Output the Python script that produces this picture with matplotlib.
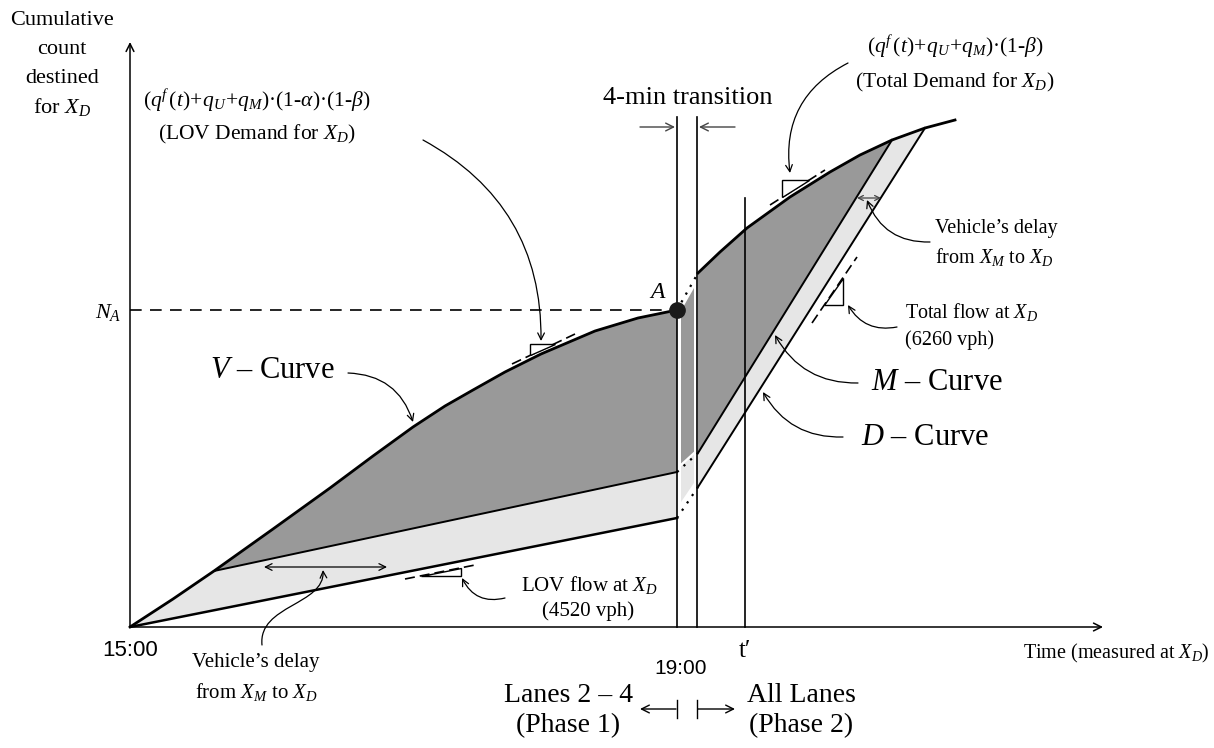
import matplotlib
matplotlib.use("Agg")
import matplotlib.pyplot as plt
from matplotlib.patches import FancyArrowPatch, Polygon
from matplotlib.path import Path

plt.rcParams['font.family'] = ['Liberation Serif', 'DejaVu Serif']
plt.rcParams['mathtext.fontset'] = 'custom'
plt.rcParams['mathtext.rm'] = 'Liberation Serif'
plt.rcParams['mathtext.it'] = 'Liberation Serif:italic'
plt.rcParams['mathtext.bf'] = 'Liberation Serif:bold'

# --- data (pixel-like schematic coordinates, y grows downward) ---
origin = (130, 627)
# V-curve, phase 1 (first point = origin, 3rd point = kink where M splits)
v_x = [130, 173, 214, 273, 330, 373, 413, 445, 473, 505, 541, 595, 638, 677]
v_y = [627, 599, 571, 529, 488, 456, 427, 406, 390, 372, 354, 331, 318, 310]
point_A = (677, 310)
# M and D curves in phase 1
m1_x = [214, 677]
m1_y = [571, 472]
d1_x = [130, 677]
d1_y = [627, 518]
# phase 2: total demand curve, M and D
v2_x = [698, 720, 747, 790, 830, 860, 892, 925, 955]
v2_y = [273, 252, 228, 197, 172, 155, 140, 128, 120]
m2_x = [698, 892]
m2_y = [453, 140]
d2_x = [698, 925]
d2_y = [487, 128]
# vertical markers
trans_x = [677, 697]
tprime_x = 745

dark = '#999999'
light = '#e6e6e6'

fig = plt.figure(figsize=(12.14, 7.48), dpi=100)
ax = fig.add_axes([0, 0, 1, 1])
ax.set_xlim(0, 1214)
ax.set_ylim(748, 0)
ax.axis('off')

# --- shaded regions ---
dark1 = list(zip(v_x[2:], v_y[2:])) + [(m1_x[1], m1_y[1]), (m1_x[0], m1_y[0])]
light1 = list(zip(v_x[:3], v_y[:3])) + [(m1_x[1], m1_y[1]), (d1_x[1], d1_y[1])]
ax.add_patch(Polygon(light1, closed=True, fc=light, ec='none', zorder=1))
ax.add_patch(Polygon(dark1, closed=True, fc=dark, ec='none', zorder=1))

dark2 = list(zip(v2_x[:7], v2_y[:7])) + [(m2_x[0], m2_y[0])]
light2 = [(m2_x[1], m2_y[1])] + list(zip(v2_x[6:8], v2_y[6:8])) + [(d2_x[0], d2_y[0]), (m2_x[0], m2_y[0])]
ax.add_patch(Polygon(light2, closed=True, fc=light, ec='none', zorder=1))
ax.add_patch(Polygon(dark2, closed=True, fc=dark, ec='none', zorder=1))

# strip inside the 4-min transition
def lerp(a, b, t):
    return a + (b - a) * t
sx0, sx1 = 681, 694
t0 = (sx0 - trans_x[0]) / (trans_x[1] + 1 - trans_x[0])
t1 = (sx1 - trans_x[0]) / (trans_x[1] + 1 - trans_x[0])
top0, top1 = lerp(point_A[1], v2_y[0], t0) + 8, lerp(point_A[1], v2_y[0], t1) + 8
mid0, mid1 = lerp(m1_y[1], m2_y[0], t0) - 5, lerp(m1_y[1], m2_y[0], t1) - 5
bot0, bot1 = lerp(d1_y[1], d2_y[0], t0) - 10, lerp(d1_y[1], d2_y[0], t1) - 10
ax.add_patch(Polygon([(sx0, top0), (sx1, top1), (sx1, mid1), (sx0, mid0)], fc=dark, ec='none', zorder=1))
ax.add_patch(Polygon([(sx0, mid0 + 3), (sx1, mid1 + 3), (sx1, bot1), (sx0, bot0)], fc=light, ec='none', zorder=1))

# --- curves ---
ax.plot(v_x, v_y, color='black', lw=2.0, zorder=3, solid_capstyle='round', solid_joinstyle='round')
ax.plot(m1_x, m1_y, color='black', lw=1.4, zorder=3)
ax.plot(d1_x, d1_y, color='black', lw=1.8, zorder=3)
ax.plot(v2_x, v2_y, color='black', lw=2.0, zorder=3, solid_joinstyle='round')
ax.plot(m2_x, m2_y, color='black', lw=1.4, zorder=3)
ax.plot(d2_x, d2_y, color='black', lw=1.4, zorder=3)

# dotted joins across the transition
ax.plot([point_A[0], v2_x[0]], [point_A[1], v2_y[0]], color='black', lw=1.6, ls=(0, (1, 3)), zorder=3)
ax.plot([m1_x[1], m2_x[0]], [m1_y[1], m2_y[0]], color='black', lw=1.6, ls=(0, (1, 3)), zorder=3)
ax.plot([d1_x[1], d2_x[0]], [d1_y[1], d2_y[0]], color='black', lw=1.6, ls=(0, (1, 3)), zorder=3)

# point A and N_A
ax.plot([origin[0], point_A[0]], [point_A[1], point_A[1]], color='black', lw=1.2, ls=(0, (7, 5)), zorder=2)
ax.plot(*point_A, 'o', ms=11, color='#1a1a1a', zorder=5)

# --- axes ---
ax.add_patch(FancyArrowPatch(origin, (130, 42), arrowstyle='->', mutation_scale=14, lw=1.1, shrinkA=0, shrinkB=0))
ax.add_patch(FancyArrowPatch(origin, (1103, 627), arrowstyle='->', mutation_scale=14, lw=1.1, shrinkA=0, shrinkB=0))
for xv in trans_x:
    ax.plot([xv, xv], [117, 627], color='black', lw=1.2, zorder=4)
ax.plot([tprime_x, tprime_x], [198, 627], color='black', lw=1.2, zorder=4)

# 4-min transition arrows
ax.add_patch(FancyArrowPatch((640, 127), (675, 127), arrowstyle='->', mutation_scale=14, lw=1.0, color='#444444', shrinkA=0, shrinkB=0))
ax.add_patch(FancyArrowPatch((735, 127), (699, 127), arrowstyle='->', mutation_scale=14, lw=1.0, color='#444444', shrinkA=0, shrinkB=0))

# phase arrows under the axis
ax.add_patch(FancyArrowPatch((676, 709), (640, 709), arrowstyle='->', mutation_scale=14, lw=1.0, shrinkA=0, shrinkB=0))
ax.add_patch(FancyArrowPatch((698, 709), (735, 709), arrowstyle='->', mutation_scale=14, lw=1.0, shrinkA=0, shrinkB=0))
ax.plot([677, 677], [700, 718], color='black', lw=1.0)
ax.plot([697, 697], [700, 718], color='black', lw=1.0)

# --- tangent markers (dashed line + small slope triangle) ---
def tangent(p, q, x1, x2, corner):
    ax.plot([p[0], q[0]], [p[1], q[1]], color='black', lw=1.2, ls=(0, (6, 3)), zorder=4)
    s = (q[1] - p[1]) / (q[0] - p[0])
    ya, yb = p[1] + s * (x1 - p[0]), p[1] + s * (x2 - p[0])
    if corner == 'upper':
        pts = [(x1, ya), (x1, yb), (x2, yb)] if yb < ya else [(x1, ya), (x2, ya), (x2, yb)]
    else:
        pts = [(x1, ya), (x2, ya), (x2, yb)] if yb < ya else [(x1, ya), (x1, yb), (x2, yb)]
    ax.add_patch(Polygon(pts, closed=True, fc='white', ec='black', lw=1.0, zorder=4))

tangent((512, 364), (575, 334), 530, 555, 'upper')
tangent((405, 579), (475, 565), 421, 461, 'lower')
tangent((770, 205), (825, 170), 782, 809, 'upper')
tangent((812, 323), (857, 257), 824, 843, 'lower')

# double-headed delay arrows
ax.add_patch(FancyArrowPatch((264, 567), (387, 567), arrowstyle='<->', mutation_scale=12, lw=0.9, shrinkA=0, shrinkB=0, zorder=4))
ax.add_patch(FancyArrowPatch((857, 198), (881, 198), arrowstyle='<->', mutation_scale=9, lw=0.9, color='#444444', shrinkA=0, shrinkB=0, zorder=4))

# --- curved pointer arrows ---
def pointer(a, b, rad):
    ax.add_patch(FancyArrowPatch(a, b, arrowstyle='->', connectionstyle='arc3,rad=%s' % rad,
                                 mutation_scale=12, lw=0.9, shrinkA=0, shrinkB=0, zorder=6))

pointer((423, 140), (541, 341), -0.3)
pointer((848, 63), (790, 173), 0.35)
pointer((348, 373), (413, 422), -0.35)
pointer((505, 598), (462, 578), -0.4)
pointer((930, 242), (867, 200), -0.35)
pointer((897, 327), (848, 305), -0.35)
pointer((858, 383), (775, 335), -0.3)
pointer((843, 437), (763, 392), -0.3)
s_path = Path([(262, 645), (258, 605), (325, 605), (323, 570)],
              [Path.MOVETO, Path.CURVE4, Path.CURVE4, Path.CURVE4])
ax.add_patch(FancyArrowPatch(path=s_path, arrowstyle='->', mutation_scale=12, lw=0.9, zorder=6))

# --- text ---
def txt(x, y, s, size=15, ha='center', **kw):
    ax.text(x, y, s, fontsize=size, ha=ha, va='center', **kw)

for yy, s in zip([20, 49, 78, 107], ['Cumulative', 'count', 'destined', 'for $X_D$']):
    txt(62, yy, s, size=16)
txt(257, 101, r'$(q^f\,(t)\!+\!q_U\!+\!q_M)$·(1-$\alpha$)·(1-$\beta$)', size=15.5)
txt(257, 134, '(LOV Demand for $X_D$)', size=15.5)
txt(955, 47, r'$(q^f\,(t)\!+\!q_U\!+\!q_M)$·(1-$\beta$)', size=15.5)
txt(955, 82, '(Total Demand for $X_D$)', size=15.5)
txt(688, 98, '4-min transition', size=19)
txt(108, 312, '$N_A$', size=16)
txt(658, 292, '$A$', size=17)
txt(272, 370, '$V$ – Curve', size=22)
txt(937, 382, '$M$ – Curve', size=22)
txt(925, 437, '$D$ – Curve', size=22)
txt(935, 228, 'Vehicle’s delay', size=14.5, ha='left')
txt(935, 257, 'from $X_M$ to $X_D$', size=14.5, ha='left')
txt(905, 312, 'Total flow at $X_D$', size=14.5, ha='left')
txt(905, 340, '(6260 vph)', size=14.5, ha='left')
txt(589, 585, 'LOV flow at $X_D$', size=15)
txt(588, 611, '(4520 vph)', size=15)
txt(256, 663, 'Vehicle’s delay', size=15)
txt(256, 692, 'from $X_M$ to $X_D$', size=15)
txt(130, 650, '15:00', size=16, family='Liberation Sans')
txt(681, 668, '19:00', size=15, family='Liberation Sans')
txt(745, 651, 't′', size=18)
txt(1116, 653, 'Time (measured at $X_D$)', size=14.5)
txt(568, 695, 'Lanes 2 – 4', size=20)
txt(568, 726, '(Phase 1)', size=20)
txt(801, 695, 'All Lanes', size=20)
txt(801, 726, '(Phase 2)', size=20)

fig.savefig('out.png', dpi=100)
